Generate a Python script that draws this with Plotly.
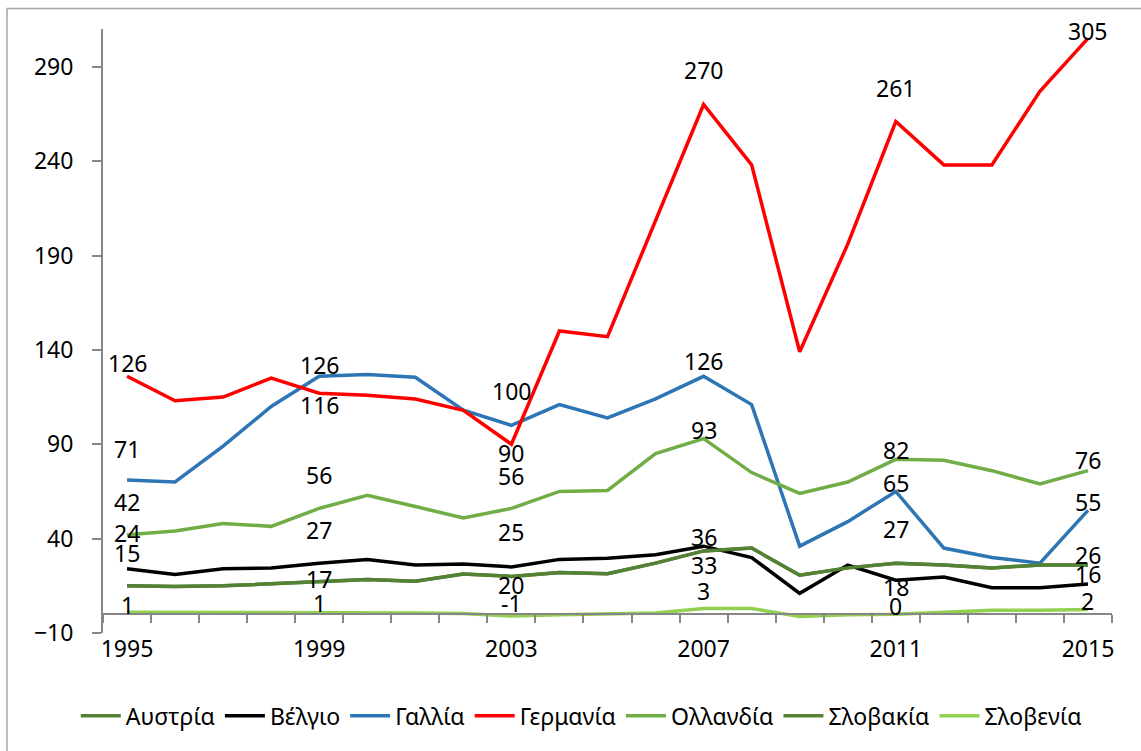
import plotly.graph_objects as go

years = list(range(1995, 2016))

austria = [15, 14.7, 15, 16, 17, 18.3, 17.4, 21.3, 20, 22, 21.4, 27, 33.5, 35, 20.6, 24.5, 27, 26, 24.5, 26, 26]
belgium = [24, 21, 24, 24.5, 27, 29, 26, 26.6, 25, 29, 29.6, 31.5, 36, 30, 11, 26, 18, 19.7, 14, 14, 16]
france = [71, 70, 89, 110, 126, 127, 125.5, 108, 100, 111, 104, 114, 126, 111, 36, 49, 65, 35, 30, 27, 55]
germany = [126, 113, 115, 125, 117, 116, 114, 108, 90, 150, 147, 209, 270, 238, 139, 196, 261, 238, 238, 277, 305]
netherlands = [42, 44, 48, 46.5, 56, 63, 57, 51, 56, 65, 65.5, 85, 93, 75, 64, 70, 82, 81.5, 76, 69, 76]
slovakia = [15, 14.7, 15, 16, 17, 18.3, 17.4, 21.3, 20, 22, 21.4, 27, 33.5, 35, 20.6, 24.5, 27, 26, 24.5, 26, 26]
slovenia = [1, 1, 1, 1, 1, 1, 0.6, 0.3, -1, -0.3, 0.3, 0.6, 3, 3, -1.2, -0.3, 0, 1, 2, 2, 2.5]

series_names = ["Αυστρία", "Βέλγιο", "Γαλλία", "Γερμανία", "Ολλανδία", "Σλοβακία", "Σλοβενία"]
series_values = [austria, belgium, france, germany, netherlands, slovakia, slovenia]
series_colors = ["#548235", "#000000", "#2E75B6", "#FF0000", "#70AD47", "#548235", "#92D050"]

tick_years = [1995, 1999, 2003, 2007, 2011, 2015]

# data labels as shown in the chart (text and its vertical position in data units)
label_years = [1995] * 6 + [1999] * 6 + [2003] * 6 + [2007] * 6 + [2011] * 6 + [2015] * 6
label_texts = ["126", "71", "42", "24", "15", "1",
               "126", "116", "56", "27", "17", "1",
               "100", "90", "56", "25", "20", "-1",
               "270", "126", "93", "36", "33", "3",
               "261", "82", "65", "27", "18", "0",
               "305", "76", "55", "26", "16", "2"]
label_y = [133.3, 87.7, 59.6, 43.2, 32.6, 5,
           132.2, 110.6, 73.9, 44.4, 18.6, 5.9,
           118.1, 85.4, 73.4, 43.3, 15.6, 5.9,
           288.5, 134, 97.4, 40.9, 26.2, 12.1,
           279, 86.8, 69.5, 45.1, 14.4, 4.1,
           309.2, 81.5, 59.2, 31.5, 21.3, 6.8]

FONT = "Noto Sans, Open Sans, DejaVu Sans, sans-serif"
AXIS_GRAY = "#868686"
FS = 23

fig = go.Figure()
for name, vals, col in zip(series_names, series_values, series_colors):
    fig.add_trace(go.Scatter(x=years, y=vals, name=name, mode="lines",
                             line=dict(color=col, width=3.5), cliponaxis=False))

for xv, t, yv in zip(label_years, label_texts, label_y):
    fig.add_annotation(x=xv, y=yv, xref="x", yref="y", text=t, showarrow=False,
                       xanchor="center", yanchor="middle",
                       font=dict(family=FONT, size=FS, color="#000000"))

ymin, ymax = -10, 310
fig.update_layout(
    width=1141, height=751,
    margin=dict(l=103, r=29, t=29, b=118),
    paper_bgcolor="white", plot_bgcolor="white",
    font=dict(family=FONT, size=FS, color="#000000"),
    showlegend=True,
    legend=dict(orientation="h", x=0.474, xanchor="center", y=-0.137, yanchor="middle",
                font=dict(family=FONT, size=FS, color="#000000"),
                bgcolor="rgba(0,0,0,0)", itemwidth=40),
    xaxis=dict(range=[1994.5, 2015.5], tickmode="array", tickvals=tick_years,
               ticktext=[str(v) for v in tick_years], ticks="",
               showgrid=False, zeroline=False, showline=True, linecolor=AXIS_GRAY, linewidth=2,
               anchor="free", position=(0 - ymin) / (ymax - ymin),
               minor=dict(tickmode="linear", tick0=1994.5, dtick=1, ticks="outside",
                          ticklen=8, tickwidth=1.5, tickcolor=AXIS_GRAY, showgrid=False),
               tickfont=dict(family=FONT, size=FS), ticklabelstandoff=14, automargin=False),
    yaxis=dict(range=[ymin, ymax], tickmode="linear", tick0=-10, dtick=50,
               ticks="outside", ticklen=9, tickwidth=1.5, tickcolor=AXIS_GRAY,
               showgrid=False, zeroline=False, showline=True, linecolor=AXIS_GRAY, linewidth=2,
               tickfont=dict(family=FONT, size=FS), ticklabelstandoff=14, automargin=False),
)

# outer chart-area border (cropped on right and bottom in the picture)
fig.add_shape(type="rect", xref="paper", yref="paper",
              x0=(7 - 103) / 1009, x1=1.2, y0=-0.5, y1=(633 - 8.5) / 604,
              line=dict(color="#A6A6A6", width=1.5), fillcolor="rgba(0,0,0,0)", layer="below")

fig.write_html("out.html", config={"displayModeBar": False},
               post_script="document.body.style.margin='0';document.body.style.overflow='hidden';")
